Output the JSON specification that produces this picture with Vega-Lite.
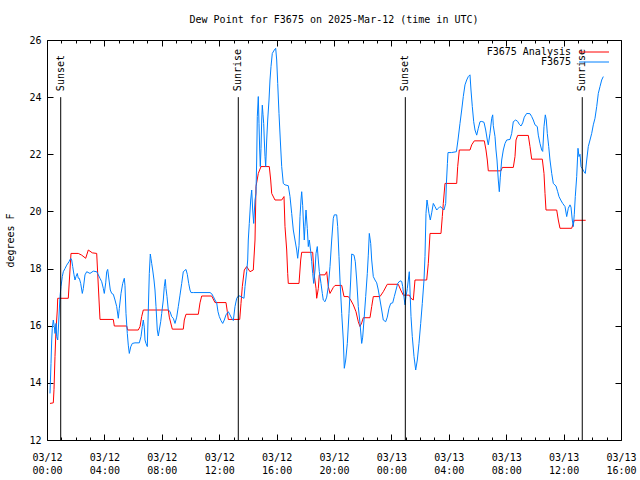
{
  "$schema": "https://vega.github.io/schema/vega-lite/v6.json",
  "width": 574,
  "height": 400,
  "autosize": {"type": "none"},
  "padding": {"left": 47, "top": 40, "right": 19, "bottom": 40},
  "background": "white",
  "title": {
    "text": "Dew Point for F3675 on 2025-Mar-12 (time in UTC)",
    "font": "DejaVu Sans Mono",
    "fontSize": 10,
    "fontWeight": "normal",
    "color": "black",
    "anchor": "middle",
    "offset": 10
  },
  "config": {
    "view": {"stroke": "black", "strokeWidth": 1},
    "font": "DejaVu Sans Mono"
  },
  "datasets": {
    "analysis": [
      {"hour":0.209,"dewpoint":13.28},{"hour":0.439,"dewpoint":13.3},{"hour":0.488,"dewpoint":13.77},{"hour":0.557,"dewpoint":14.92},{"hour":0.627,"dewpoint":15.85},{"hour":0.718,"dewpoint":16.55},{"hour":0.746,"dewpoint":16.96},{"hour":1.484,"dewpoint":16.96},{"hour":1.672,"dewpoint":18.53},{"hour":2.181,"dewpoint":18.53},{"hour":2.418,"dewpoint":18.47},{"hour":2.697,"dewpoint":18.36},{"hour":2.878,"dewpoint":18.65},{"hour":3.157,"dewpoint":18.55},{"hour":3.463,"dewpoint":18.53},{"hour":3.693,"dewpoint":16.22},{"hour":4.62,"dewpoint":16.22},{"hour":4.69,"dewpoint":15.99},{"hour":5.554,"dewpoint":15.99},{"hour":5.624,"dewpoint":15.85},{"hour":6.362,"dewpoint":15.85},{"hour":6.481,"dewpoint":15.97},{"hour":6.599,"dewpoint":16.32},{"hour":6.711,"dewpoint":16.55},{"hour":8.453,"dewpoint":16.55},{"hour":8.523,"dewpoint":16.3},{"hour":8.732,"dewpoint":15.88},{"hour":9.498,"dewpoint":15.88},{"hour":9.568,"dewpoint":16.2},{"hour":9.686,"dewpoint":16.4},{"hour":10.544,"dewpoint":16.4},{"hour":10.662,"dewpoint":16.8},{"hour":10.78,"dewpoint":17.04},{"hour":11.477,"dewpoint":17.04},{"hour":11.707,"dewpoint":16.81},{"hour":12.474,"dewpoint":16.81},{"hour":12.564,"dewpoint":16.5},{"hour":12.634,"dewpoint":16.22},{"hour":13.429,"dewpoint":16.22},{"hour":13.519,"dewpoint":16.78},{"hour":13.61,"dewpoint":17.37},{"hour":13.749,"dewpoint":17.95},{"hour":13.916,"dewpoint":18.07},{"hour":14.146,"dewpoint":17.89},{"hour":14.376,"dewpoint":17.95},{"hour":14.495,"dewpoint":19.0},{"hour":14.564,"dewpoint":20.87},{"hour":14.725,"dewpoint":21.33},{"hour":14.913,"dewpoint":21.57},{"hour":15.491,"dewpoint":21.57},{"hour":15.589,"dewpoint":21.1},{"hour":15.658,"dewpoint":20.63},{"hour":15.888,"dewpoint":20.4},{"hour":16.355,"dewpoint":20.4},{"hour":16.516,"dewpoint":20.52},{"hour":16.585,"dewpoint":19.47},{"hour":16.703,"dewpoint":18.65},{"hour":16.773,"dewpoint":17.83},{"hour":16.815,"dewpoint":17.48},{"hour":17.561,"dewpoint":17.48},{"hour":17.679,"dewpoint":18.3},{"hour":17.749,"dewpoint":18.57},{"hour":18.515,"dewpoint":18.57},{"hour":18.606,"dewpoint":17.83},{"hour":18.746,"dewpoint":17.31},{"hour":18.794,"dewpoint":16.96},{"hour":18.906,"dewpoint":17.3},{"hour":18.976,"dewpoint":17.78},{"hour":19.373,"dewpoint":17.78},{"hour":19.491,"dewpoint":17.89},{"hour":19.603,"dewpoint":17.37},{"hour":19.721,"dewpoint":17.13},{"hour":19.951,"dewpoint":17.34},{"hour":20.07,"dewpoint":17.41},{"hour":20.537,"dewpoint":17.41},{"hour":20.697,"dewpoint":17.02},{"hour":20.997,"dewpoint":17.02},{"hour":21.164,"dewpoint":16.9},{"hour":21.345,"dewpoint":16.73},{"hour":21.533,"dewpoint":16.49},{"hour":21.693,"dewpoint":16.14},{"hour":21.812,"dewpoint":15.97},{"hour":21.93,"dewpoint":16.1},{"hour":22.042,"dewpoint":16.28},{"hour":22.509,"dewpoint":16.28},{"hour":22.627,"dewpoint":16.67},{"hour":22.739,"dewpoint":17.02},{"hour":23.205,"dewpoint":17.02},{"hour":23.435,"dewpoint":17.19},{"hour":23.714,"dewpoint":17.45},{"hour":24.481,"dewpoint":17.45},{"hour":24.648,"dewpoint":17.25},{"hour":24.829,"dewpoint":17.07},{"hour":25.247,"dewpoint":17.07},{"hour":25.366,"dewpoint":16.96},{"hour":25.526,"dewpoint":16.9},{"hour":25.644,"dewpoint":17.6},{"hour":26.46,"dewpoint":17.6},{"hour":26.572,"dewpoint":18.18},{"hour":26.69,"dewpoint":19.23},{"hour":27.456,"dewpoint":19.23},{"hour":27.547,"dewpoint":19.82},{"hour":27.617,"dewpoint":20.28},{"hour":27.735,"dewpoint":20.98},{"hour":28.55,"dewpoint":20.98},{"hour":28.62,"dewpoint":21.57},{"hour":28.732,"dewpoint":22.15},{"hour":29.477,"dewpoint":22.15},{"hour":29.596,"dewpoint":22.33},{"hour":29.777,"dewpoint":22.47},{"hour":30.474,"dewpoint":22.47},{"hour":30.592,"dewpoint":22.15},{"hour":30.683,"dewpoint":21.8},{"hour":30.753,"dewpoint":21.42},{"hour":31.637,"dewpoint":21.42},{"hour":31.728,"dewpoint":21.54},{"hour":32.495,"dewpoint":21.54},{"hour":32.613,"dewpoint":21.92},{"hour":32.683,"dewpoint":22.5},{"hour":32.801,"dewpoint":22.66},{"hour":33.54,"dewpoint":22.66},{"hour":33.658,"dewpoint":22.27},{"hour":33.777,"dewpoint":21.83},{"hour":34.516,"dewpoint":21.83},{"hour":34.634,"dewpoint":21.33},{"hour":34.704,"dewpoint":20.63},{"hour":34.773,"dewpoint":20.05},{"hour":35.519,"dewpoint":20.05},{"hour":35.631,"dewpoint":19.7},{"hour":35.749,"dewpoint":19.41},{"hour":36.564,"dewpoint":19.41},{"hour":36.676,"dewpoint":19.58},{"hour":36.745,"dewpoint":19.69},{"hour":37.539,"dewpoint":19.69}
    ],
    "observed": [
      {"hour":0.209,"dewpoint":13.63},{"hour":0.279,"dewpoint":14.68},{"hour":0.328,"dewpoint":15.5},{"hour":0.369,"dewpoint":15.91},{"hour":0.439,"dewpoint":16.2},{"hour":0.509,"dewpoint":15.97},{"hour":0.557,"dewpoint":15.73},{"hour":0.627,"dewpoint":16.08},{"hour":0.676,"dewpoint":15.62},{"hour":0.746,"dewpoint":15.5},{"hour":0.787,"dewpoint":15.85},{"hour":0.857,"dewpoint":16.55},{"hour":0.906,"dewpoint":17.02},{"hour":0.976,"dewpoint":17.37},{"hour":1.066,"dewpoint":17.72},{"hour":1.136,"dewpoint":17.89},{"hour":1.254,"dewpoint":18.0},{"hour":1.373,"dewpoint":18.12},{"hour":1.533,"dewpoint":18.24},{"hour":1.652,"dewpoint":18.36},{"hour":1.721,"dewpoint":18.3},{"hour":1.791,"dewpoint":18.07},{"hour":1.882,"dewpoint":17.78},{"hour":1.951,"dewpoint":17.6},{"hour":2.021,"dewpoint":17.72},{"hour":2.111,"dewpoint":17.83},{"hour":2.181,"dewpoint":17.66},{"hour":2.251,"dewpoint":17.66},{"hour":2.348,"dewpoint":17.48},{"hour":2.46,"dewpoint":17.13},{"hour":2.53,"dewpoint":17.3},{"hour":2.648,"dewpoint":17.78},{"hour":2.767,"dewpoint":17.89},{"hour":2.996,"dewpoint":17.83},{"hour":3.226,"dewpoint":17.91},{"hour":3.463,"dewpoint":17.89},{"hour":3.575,"dewpoint":17.78},{"hour":3.693,"dewpoint":17.66},{"hour":3.812,"dewpoint":17.54},{"hour":3.923,"dewpoint":17.31},{"hour":3.993,"dewpoint":17.13},{"hour":4.091,"dewpoint":17.5},{"hour":4.16,"dewpoint":17.89},{"hour":4.23,"dewpoint":17.97},{"hour":4.321,"dewpoint":17.6},{"hour":4.411,"dewpoint":17.25},{"hour":4.509,"dewpoint":17.13},{"hour":4.62,"dewpoint":17.1},{"hour":4.739,"dewpoint":16.9},{"hour":4.857,"dewpoint":16.67},{"hour":4.969,"dewpoint":16.26},{"hour":5.038,"dewpoint":16.6},{"hour":5.157,"dewpoint":17.13},{"hour":5.275,"dewpoint":17.48},{"hour":5.387,"dewpoint":17.66},{"hour":5.435,"dewpoint":17.4},{"hour":5.505,"dewpoint":16.43},{"hour":5.596,"dewpoint":15.73},{"hour":5.665,"dewpoint":15.32},{"hour":5.735,"dewpoint":15.03},{"hour":5.833,"dewpoint":15.26},{"hour":5.944,"dewpoint":15.38},{"hour":6.132,"dewpoint":15.4},{"hour":6.432,"dewpoint":15.4},{"hour":6.551,"dewpoint":15.62},{"hour":6.641,"dewpoint":15.97},{"hour":6.711,"dewpoint":16.2},{"hour":6.78,"dewpoint":15.95},{"hour":6.829,"dewpoint":15.5},{"hour":6.899,"dewpoint":15.38},{"hour":6.99,"dewpoint":15.27},{"hour":7.06,"dewpoint":16.55},{"hour":7.129,"dewpoint":17.83},{"hour":7.199,"dewpoint":18.51},{"hour":7.247,"dewpoint":18.35},{"hour":7.296,"dewpoint":18.18},{"hour":7.366,"dewpoint":17.95},{"hour":7.456,"dewpoint":17.6},{"hour":7.526,"dewpoint":17.25},{"hour":7.596,"dewpoint":16.67},{"hour":7.686,"dewpoint":15.85},{"hour":7.756,"dewpoint":15.64},{"hour":7.826,"dewpoint":15.85},{"hour":7.923,"dewpoint":16.14},{"hour":7.993,"dewpoint":16.43},{"hour":8.104,"dewpoint":16.9},{"hour":8.174,"dewpoint":17.37},{"hour":8.244,"dewpoint":17.62},{"hour":8.293,"dewpoint":17.3},{"hour":8.362,"dewpoint":17.02},{"hour":8.453,"dewpoint":16.55},{"hour":8.571,"dewpoint":16.5},{"hour":8.69,"dewpoint":16.32},{"hour":8.801,"dewpoint":16.26},{"hour":8.92,"dewpoint":16.08},{"hour":9.038,"dewpoint":16.3},{"hour":9.15,"dewpoint":16.67},{"hour":9.268,"dewpoint":17.07},{"hour":9.387,"dewpoint":17.48},{"hour":9.498,"dewpoint":17.89},{"hour":9.686,"dewpoint":17.97},{"hour":9.777,"dewpoint":17.8},{"hour":9.874,"dewpoint":17.48},{"hour":9.965,"dewpoint":17.25},{"hour":10.035,"dewpoint":17.16},{"hour":10.195,"dewpoint":17.16},{"hour":11.359,"dewpoint":17.16},{"hour":11.477,"dewpoint":17.12},{"hour":11.589,"dewpoint":17.02},{"hour":11.707,"dewpoint":16.9},{"hour":11.826,"dewpoint":16.8},{"hour":11.916,"dewpoint":16.49},{"hour":12.007,"dewpoint":16.32},{"hour":12.125,"dewpoint":16.18},{"hour":12.244,"dewpoint":16.08},{"hour":12.355,"dewpoint":16.2},{"hour":12.474,"dewpoint":16.38},{"hour":12.634,"dewpoint":16.49},{"hour":12.753,"dewpoint":16.38},{"hour":12.871,"dewpoint":16.26},{"hour":12.983,"dewpoint":16.18},{"hour":13.101,"dewpoint":16.67},{"hour":13.22,"dewpoint":16.96},{"hour":13.359,"dewpoint":17.05},{"hour":13.519,"dewpoint":17.02},{"hour":13.728,"dewpoint":16.96},{"hour":13.798,"dewpoint":17.37},{"hour":13.916,"dewpoint":17.89},{"hour":13.986,"dewpoint":18.3},{"hour":14.027,"dewpoint":19.0},{"hour":14.097,"dewpoint":19.58},{"hour":14.195,"dewpoint":20.4},{"hour":14.265,"dewpoint":20.75},{"hour":14.334,"dewpoint":20.05},{"hour":14.404,"dewpoint":19.58},{"hour":14.495,"dewpoint":20.4},{"hour":14.564,"dewpoint":20.63},{"hour":14.613,"dewpoint":21.8},{"hour":14.655,"dewpoint":23.32},{"hour":14.725,"dewpoint":24.02},{"hour":14.773,"dewpoint":23.08},{"hour":14.822,"dewpoint":22.15},{"hour":14.864,"dewpoint":21.57},{"hour":14.913,"dewpoint":22.2},{"hour":14.962,"dewpoint":23.2},{"hour":15.004,"dewpoint":23.72},{"hour":15.052,"dewpoint":23.4},{"hour":15.101,"dewpoint":23.08},{"hour":15.143,"dewpoint":22.5},{"hour":15.192,"dewpoint":21.92},{"hour":15.24,"dewpoint":21.57},{"hour":15.31,"dewpoint":22.5},{"hour":15.38,"dewpoint":23.2},{"hour":15.471,"dewpoint":23.9},{"hour":15.54,"dewpoint":24.6},{"hour":15.61,"dewpoint":25.07},{"hour":15.7,"dewpoint":25.53},{"hour":15.84,"dewpoint":25.65},{"hour":15.937,"dewpoint":25.71},{"hour":16.007,"dewpoint":25.3},{"hour":16.077,"dewpoint":24.48},{"hour":16.167,"dewpoint":23.43},{"hour":16.258,"dewpoint":22.5},{"hour":16.355,"dewpoint":21.57},{"hour":16.467,"dewpoint":20.98},{"hour":16.585,"dewpoint":20.93},{"hour":16.815,"dewpoint":20.9},{"hour":16.934,"dewpoint":20.52},{"hour":17.052,"dewpoint":19.93},{"hour":17.164,"dewpoint":19.35},{"hour":17.282,"dewpoint":19.0},{"hour":17.401,"dewpoint":18.65},{"hour":17.47,"dewpoint":18.36},{"hour":17.561,"dewpoint":18.8},{"hour":17.631,"dewpoint":19.82},{"hour":17.7,"dewpoint":20.4},{"hour":17.749,"dewpoint":20.69},{"hour":17.819,"dewpoint":20.2},{"hour":17.861,"dewpoint":19.7},{"hour":17.93,"dewpoint":19.0},{"hour":17.979,"dewpoint":19.47},{"hour":18.049,"dewpoint":20.05},{"hour":18.14,"dewpoint":19.4},{"hour":18.209,"dewpoint":18.77},{"hour":18.279,"dewpoint":19.0},{"hour":18.377,"dewpoint":18.6},{"hour":18.446,"dewpoint":18.24},{"hour":18.516,"dewpoint":17.83},{"hour":18.586,"dewpoint":17.48},{"hour":18.676,"dewpoint":17.95},{"hour":18.746,"dewpoint":18.53},{"hour":18.836,"dewpoint":18.77},{"hour":18.906,"dewpoint":18.3},{"hour":18.976,"dewpoint":17.9},{"hour":19.094,"dewpoint":17.48},{"hour":19.185,"dewpoint":17.13},{"hour":19.254,"dewpoint":16.9},{"hour":19.373,"dewpoint":16.84},{"hour":19.491,"dewpoint":17.0},{"hour":19.603,"dewpoint":17.37},{"hour":19.721,"dewpoint":18.07},{"hour":19.839,"dewpoint":19.0},{"hour":19.951,"dewpoint":19.76},{"hour":20.021,"dewpoint":19.88},{"hour":20.188,"dewpoint":19.88},{"hour":20.258,"dewpoint":19.47},{"hour":20.348,"dewpoint":18.42},{"hour":20.418,"dewpoint":17.6},{"hour":20.537,"dewpoint":16.43},{"hour":20.648,"dewpoint":15.5},{"hour":20.718,"dewpoint":14.51},{"hour":20.815,"dewpoint":14.8},{"hour":20.927,"dewpoint":15.38},{"hour":21.045,"dewpoint":16.43},{"hour":21.164,"dewpoint":17.6},{"hour":21.234,"dewpoint":18.51},{"hour":21.394,"dewpoint":18.47},{"hour":21.485,"dewpoint":18.24},{"hour":21.582,"dewpoint":17.6},{"hour":21.693,"dewpoint":16.67},{"hour":21.812,"dewpoint":16.08},{"hour":21.93,"dewpoint":15.38},{"hour":22.0,"dewpoint":15.6},{"hour":22.091,"dewpoint":16.2},{"hour":22.209,"dewpoint":17.02},{"hour":22.321,"dewpoint":17.83},{"hour":22.391,"dewpoint":18.47},{"hour":22.46,"dewpoint":19.23},{"hour":22.558,"dewpoint":18.88},{"hour":22.627,"dewpoint":18.3},{"hour":22.739,"dewpoint":17.72},{"hour":22.857,"dewpoint":17.6},{"hour":22.976,"dewpoint":17.5},{"hour":23.087,"dewpoint":17.25},{"hour":23.205,"dewpoint":16.9},{"hour":23.324,"dewpoint":16.55},{"hour":23.435,"dewpoint":16.2},{"hour":23.603,"dewpoint":16.14},{"hour":23.714,"dewpoint":16.3},{"hour":23.833,"dewpoint":16.61},{"hour":23.951,"dewpoint":16.78},{"hour":24.091,"dewpoint":16.8},{"hour":24.202,"dewpoint":17.02},{"hour":24.321,"dewpoint":17.25},{"hour":24.439,"dewpoint":17.48},{"hour":24.599,"dewpoint":17.57},{"hour":24.718,"dewpoint":17.55},{"hour":24.787,"dewpoint":17.37},{"hour":24.878,"dewpoint":17.0},{"hour":24.948,"dewpoint":16.73},{"hour":25.017,"dewpoint":17.02},{"hour":25.108,"dewpoint":17.3},{"hour":25.178,"dewpoint":17.6},{"hour":25.247,"dewpoint":17.89},{"hour":25.296,"dewpoint":17.25},{"hour":25.366,"dewpoint":16.32},{"hour":25.456,"dewpoint":15.62},{"hour":25.575,"dewpoint":14.92},{"hour":25.693,"dewpoint":14.45},{"hour":25.805,"dewpoint":14.8},{"hour":25.923,"dewpoint":15.38},{"hour":26.042,"dewpoint":16.08},{"hour":26.153,"dewpoint":16.78},{"hour":26.272,"dewpoint":17.6},{"hour":26.341,"dewpoint":18.42},{"hour":26.411,"dewpoint":19.93},{"hour":26.481,"dewpoint":20.4},{"hour":26.551,"dewpoint":20.17},{"hour":26.62,"dewpoint":19.93},{"hour":26.711,"dewpoint":19.7},{"hour":26.808,"dewpoint":19.95},{"hour":26.92,"dewpoint":20.28},{"hour":27.038,"dewpoint":20.17},{"hour":27.157,"dewpoint":20.05},{"hour":27.268,"dewpoint":20.11},{"hour":27.387,"dewpoint":20.17},{"hour":27.547,"dewpoint":20.11},{"hour":27.666,"dewpoint":20.05},{"hour":27.784,"dewpoint":20.28},{"hour":27.833,"dewpoint":20.98},{"hour":27.903,"dewpoint":21.68},{"hour":27.944,"dewpoint":22.06},{"hour":28.181,"dewpoint":22.06},{"hour":28.53,"dewpoint":22.09},{"hour":28.641,"dewpoint":22.5},{"hour":28.78,"dewpoint":23.08},{"hour":28.899,"dewpoint":23.55},{"hour":29.01,"dewpoint":24.02},{"hour":29.128,"dewpoint":24.43},{"hour":29.247,"dewpoint":24.6},{"hour":29.359,"dewpoint":24.72},{"hour":29.477,"dewpoint":24.78},{"hour":29.547,"dewpoint":24.25},{"hour":29.638,"dewpoint":23.67},{"hour":29.735,"dewpoint":23.14},{"hour":29.826,"dewpoint":22.85},{"hour":29.944,"dewpoint":22.67},{"hour":30.056,"dewpoint":22.91},{"hour":30.174,"dewpoint":23.14},{"hour":30.293,"dewpoint":23.15},{"hour":30.453,"dewpoint":23.12},{"hour":30.571,"dewpoint":22.85},{"hour":30.683,"dewpoint":22.5},{"hour":30.753,"dewpoint":22.33},{"hour":30.871,"dewpoint":22.73},{"hour":30.99,"dewpoint":23.26},{"hour":31.059,"dewpoint":23.38},{"hour":31.101,"dewpoint":23.0},{"hour":31.22,"dewpoint":22.62},{"hour":31.289,"dewpoint":22.15},{"hour":31.359,"dewpoint":21.8},{"hour":31.449,"dewpoint":21.1},{"hour":31.519,"dewpoint":20.69},{"hour":31.589,"dewpoint":21.2},{"hour":31.686,"dewpoint":21.8},{"hour":31.798,"dewpoint":22.15},{"hour":31.916,"dewpoint":22.38},{"hour":32.035,"dewpoint":22.5},{"hour":32.265,"dewpoint":22.52},{"hour":32.383,"dewpoint":22.73},{"hour":32.495,"dewpoint":23.14},{"hour":32.662,"dewpoint":23.2},{"hour":32.801,"dewpoint":23.15},{"hour":32.913,"dewpoint":23.05},{"hour":33.031,"dewpoint":22.99},{"hour":33.15,"dewpoint":23.1},{"hour":33.261,"dewpoint":23.3},{"hour":33.428,"dewpoint":23.43},{"hour":33.658,"dewpoint":23.42},{"hour":33.777,"dewpoint":23.32},{"hour":33.888,"dewpoint":23.2},{"hour":34.007,"dewpoint":23.03},{"hour":34.167,"dewpoint":22.97},{"hour":34.237,"dewpoint":22.67},{"hour":34.355,"dewpoint":22.38},{"hour":34.474,"dewpoint":22.15},{"hour":34.544,"dewpoint":22.1},{"hour":34.634,"dewpoint":22.97},{"hour":34.725,"dewpoint":23.38},{"hour":34.795,"dewpoint":23.2},{"hour":34.864,"dewpoint":22.73},{"hour":34.962,"dewpoint":22.27},{"hour":35.052,"dewpoint":21.8},{"hour":35.171,"dewpoint":21.33},{"hour":35.282,"dewpoint":20.98},{"hour":35.47,"dewpoint":20.89},{"hour":35.589,"dewpoint":20.69},{"hour":35.679,"dewpoint":20.52},{"hour":35.798,"dewpoint":20.4},{"hour":35.937,"dewpoint":20.28},{"hour":36.098,"dewpoint":20.17},{"hour":36.216,"dewpoint":19.82},{"hour":36.328,"dewpoint":20.11},{"hour":36.446,"dewpoint":20.23},{"hour":36.516,"dewpoint":20.15},{"hour":36.606,"dewpoint":19.7},{"hour":36.676,"dewpoint":19.47},{"hour":36.745,"dewpoint":19.9},{"hour":36.815,"dewpoint":20.52},{"hour":36.913,"dewpoint":21.22},{"hour":37.003,"dewpoint":22.21},{"hour":37.073,"dewpoint":21.92},{"hour":37.143,"dewpoint":22.0},{"hour":37.213,"dewpoint":21.57},{"hour":37.303,"dewpoint":21.5},{"hour":37.422,"dewpoint":21.39},{"hour":37.512,"dewpoint":21.33},{"hour":37.61,"dewpoint":21.8},{"hour":37.721,"dewpoint":22.27},{"hour":37.84,"dewpoint":22.5},{"hour":37.958,"dewpoint":22.73},{"hour":38.07,"dewpoint":23.03},{"hour":38.188,"dewpoint":23.26},{"hour":38.307,"dewpoint":23.67},{"hour":38.418,"dewpoint":24.13},{"hour":38.537,"dewpoint":24.37},{"hour":38.655,"dewpoint":24.6},{"hour":38.767,"dewpoint":24.72}
    ],
    "events": [
      {"hour": 0.955, "event": "Sunset"},
      {"hour": 13.33, "event": "Sunrise"},
      {"hour": 24.97, "event": "Sunset"},
      {"hour": 37.3, "event": "Sunrise"}
    ]
  },
  "resolve": {"axis": {"x": "independent", "y": "independent"}},
  "layer": [
    {
      "data": {"name": "analysis"},
      "mark": {"type": "line", "strokeWidth": 1},
      "encoding": {
        "x": {
          "field": "hour", "type": "quantitative",
          "scale": {"domain": [0, 40], "nice": false, "zero": false},
          "axis": {
            "orient": "bottom", "title": null,
            "values": [0,1,2,3,4,5,6,7,8,9,10,11,12,13,14,15,16,17,18,19,20,21,22,23,24,25,26,27,28,29,30,31,32,33,34,35,36,37,38,39,40],
            "domain": false, "grid": false, "tickColor": "black",
            "tickSize": {"condition": {"test": "datum.value % 4 === 0", "value": -6}, "value": -3},
            "labelExpr": "datum.value % 4 === 0 ? [datum.value < 24 ? '03/12' : '03/13', (datum.value % 24 < 10 ? '0' : '') + (datum.value % 24) + ':00'] : ''",
            "labelFont": "DejaVu Sans Mono", "labelFontSize": 10, "labelColor": "black",
            "labelPadding": 18, "labelLineHeight": 13, "labelOverlap": false, "labelFlush": false
          }
        },
        "y": {
          "field": "dewpoint", "type": "quantitative",
          "scale": {"domain": [12, 26], "nice": false, "zero": false},
          "axis": {
            "orient": "left", "title": "degrees F",
            "values": [12,14,16,18,20,22,24,26],
            "domain": false, "grid": false, "tickColor": "black", "tickSize": -6,
            "labelFont": "DejaVu Sans Mono", "labelFontSize": 10, "labelColor": "black",
            "labelPadding": 12, "labelOverlap": false, "labelFlush": false,
            "titleFont": "DejaVu Sans Mono", "titleFontSize": 10, "titleFontWeight": "normal",
            "titleColor": "black", "titlePadding": 13
          }
        },
        "color": {
          "datum": "F3675 Analysis",
          "scale": {"domain": ["F3675 Analysis", "F3675"], "range": ["#ff0000", "#0080ff"]},
          "legend": {
            "orient": "none", "legendX": 542, "legendY": 7, "title": null,
            "direction": "vertical", "padding": 0, "offset": 0,
            "symbolType": "M-5,0H5", "symbolSize": 36, "symbolStrokeWidth": 1,
            "labelAlign": "right", "labelOffset": -28, "labelFont": "DejaVu Sans Mono",
            "labelFontSize": 10, "labelColor": "black", "rowPadding": 0
          }
        }
      }
    },
    {
      "data": {"name": "observed"},
      "mark": {"type": "line", "strokeWidth": 1},
      "encoding": {
        "x": {
          "field": "hour", "type": "quantitative",
          "axis": {
            "orient": "top", "title": null, "labels": false,
            "values": [0,1,2,3,4,5,6,7,8,9,10,11,12,13,14,15,16,17,18,19,20,21,22,23,24,25,26,27,28,29,30,31,32,33,34,35,36,37,38,39,40],
            "domain": false, "grid": false, "tickColor": "black",
            "tickSize": {"condition": {"test": "datum.value % 4 === 0", "value": -6}, "value": -3}
          }
        },
        "y": {
          "field": "dewpoint", "type": "quantitative",
          "axis": {
            "orient": "right", "title": null, "labels": false,
            "values": [12,14,16,18,20,22,24,26],
            "domain": false, "grid": false, "tickColor": "black", "tickSize": -6
          }
        },
        "color": {"datum": "F3675"}
      }
    },
    {
      "data": {"name": "events"},
      "mark": {"type": "rule", "color": "black", "strokeWidth": 1},
      "encoding": {
        "x": {"field": "hour", "type": "quantitative", "axis": null},
        "y": {"datum": 24, "type": "quantitative", "axis": null},
        "y2": {"datum": 12}
      }
    },
    {
      "data": {"name": "events"},
      "mark": {"type": "text", "angle": 270, "align": "left", "baseline": "middle", "dx": 6, "font": "DejaVu Sans Mono", "fontSize": 10, "color": "black"},
      "encoding": {
        "x": {"field": "hour", "type": "quantitative", "axis": null},
        "y": {"datum": 24, "type": "quantitative", "axis": null},
        "text": {"field": "event"}
      }
    }
  ]
}
